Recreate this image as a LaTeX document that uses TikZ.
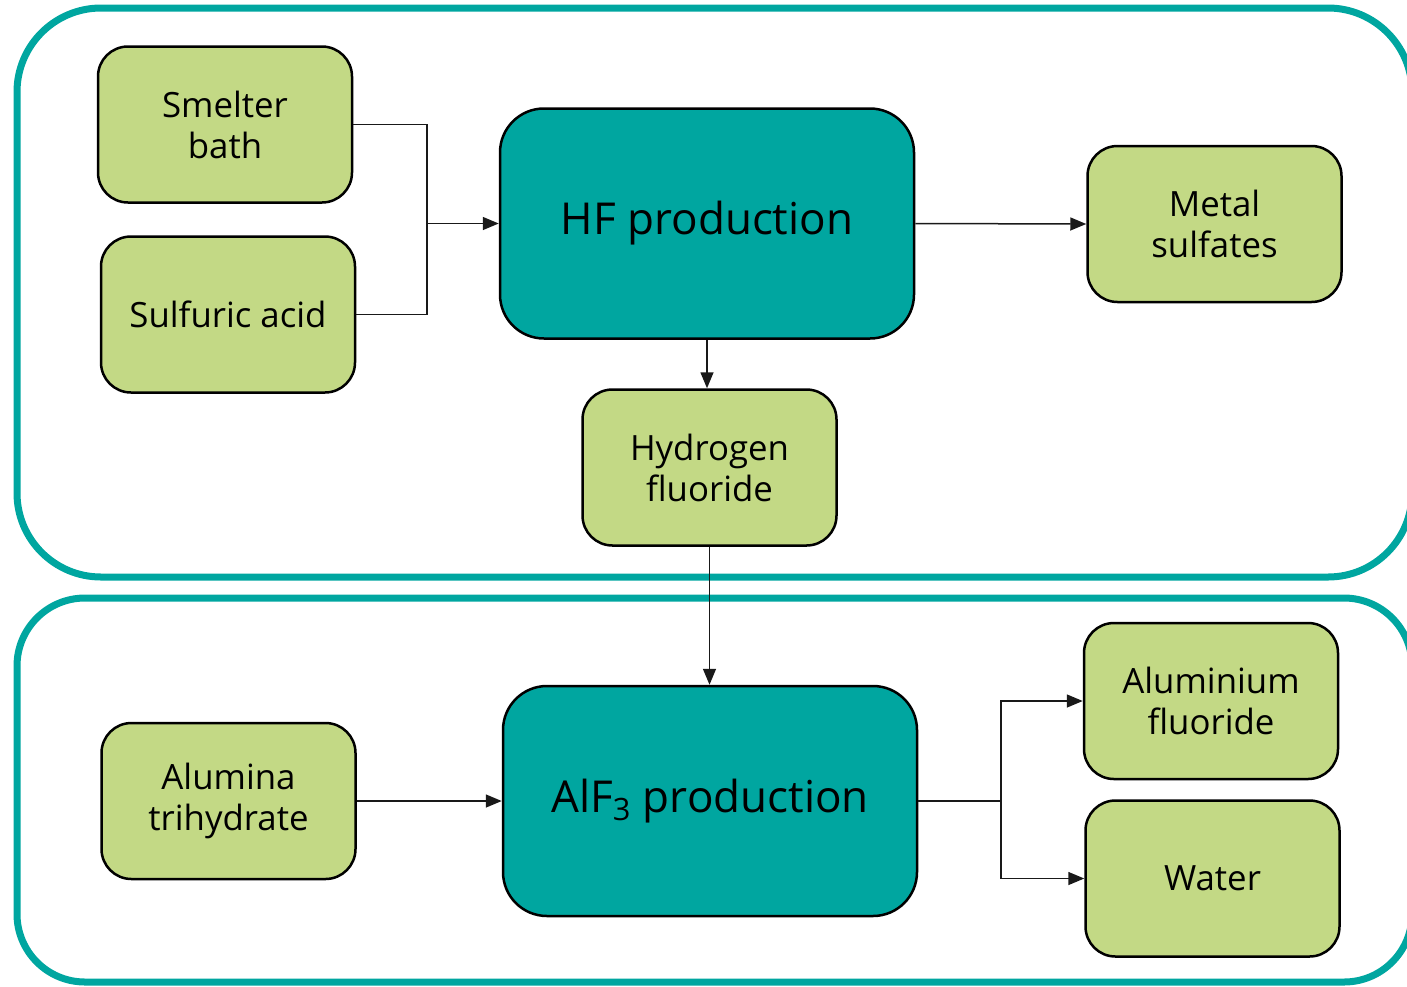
\documentclass[tikz,border=0pt]{standalone}
\usepackage{fontspec}
\setmainfont{Open Sans}
\usetikzlibrary{arrows.meta}
\definecolor{teal1}{HTML}{00A6A0}
\definecolor{green1}{HTML}{C3D985}
\begin{document}
\begin{tikzpicture}[x=0.5pt,y=-0.5pt,
 gbox/.style={draw=black, line width=1.25pt, fill=green1, rounded corners=15pt, minimum width=127pt, minimum height=78pt, align=center, font=\fontsize{17.4}{20.5}\selectfont, inner sep=0pt},
 tbox/.style={draw=black, line width=1.25pt, fill=teal1, rounded corners=22pt, minimum width=207pt, minimum height=115pt, font=\fontsize{22}{26}\selectfont, inner sep=0pt},
 frame/.style={draw=teal1, line width=3.5pt},
 conn/.style={draw=black!90, line width=0.75pt, -{Triangle[length=8pt,width=6.5pt]}},
 wire/.style={draw=black!90, line width=0.75pt}]
\useasboundingbox (0,0) rectangle (1407,986);
\clip (0,0) rectangle (1407,986);
% frames
\draw[frame, rounded corners=42pt] (17,8) rectangle (1412,577);
\draw[frame, rounded corners=34pt] (17,598) rectangle (1412,982);
% nodes
\node[gbox] (sb) at (225,124.5) {Smelter\\bath};
\node[gbox] (sa) at (228,314.5) {Sulfuric acid};
\node[tbox] (hf) at (707,223.5) {\raisebox{-1pt}{HF production}};
\node[gbox] (ms) at (1214.5,224) {Metal\\sulfates};
\node[gbox] (hfl) at (709.5,467.5) {Hydrogen\\fluoride};
\node[gbox] (at) at (228.5,801) {Alumina\\trihydrate};
\node[tbox] (alf) at (710,801) {\raisebox{-1pt}{AlF\textsubscript{3} production}};
\node[gbox] (af) at (1211,701) {Aluminium\\fluoride};
\node[gbox] (wa) at (1212.5,878.5) {Water};
% connectors
\coordinate (j1) at (427,223.5);
\draw[wire] (sb.east) -| (j1);
\draw[wire] (sa.east) -| (j1);
\draw[conn] (j1) -- (hf.west);
\draw[conn] (hf.east) -- (ms.west);
\draw[conn] (hf.south) -- (hf.south |- hfl.north);
\draw[conn] (hfl.south) -- (hfl.south |- alf.north);
\draw[conn] (at.east) -- (alf.west);
\coordinate (j2) at (1001,801);
\draw[wire] (alf.east) -- (j2);
\draw[conn] (j2) |- (af.west);
\draw[conn] (j2) |- (wa.west);
\end{tikzpicture}
\end{document}
